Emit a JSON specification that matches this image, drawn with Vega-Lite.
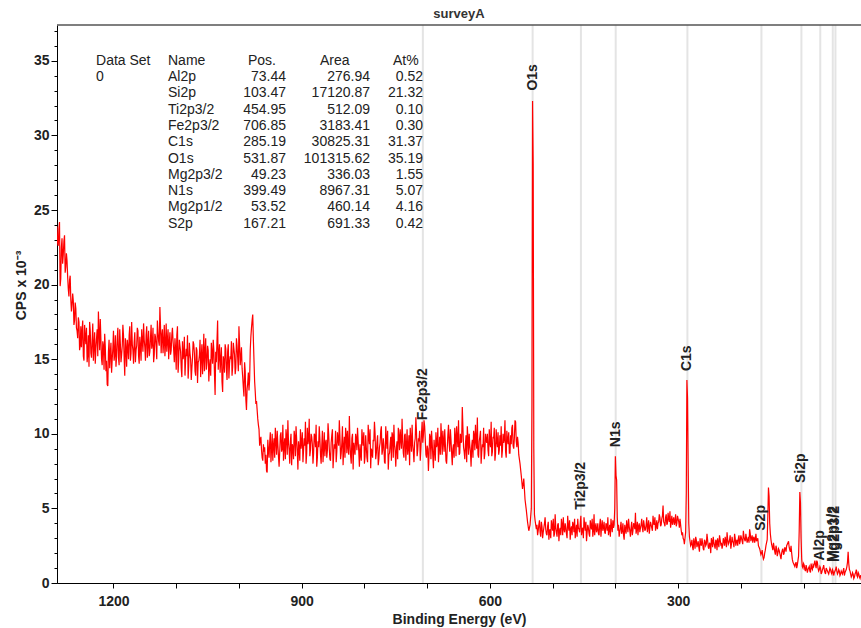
{
"$schema": "https://vega.github.io/schema/vega-lite/v6.json",
"width": 804,
"height": 558,
"autosize": {"type": "none"},
"padding": {"left": 57, "top": 25, "right": 0, "bottom": 45},
"title": {"text": "surveyA", "fontSize": 13, "fontWeight": "bold", "font": "Liberation Sans", "color": "#333", "offset": 3, "anchor": "middle"},
"config": {
  "view": {"stroke": null},
  "font": "Liberation Sans",
  "axis": {"domainColor": "#000", "tickColor": "#000", "labelColor": "#222", "titleColor": "#222", "labelFont": "Liberation Sans", "titleFont": "Liberation Sans", "labelFontSize": 14, "labelFontWeight": "bold", "titleFontSize": 14, "titleFontWeight": "bold", "domainWidth": 1, "grid": false, "labelOverlap": false}
},
"datasets": {
"peaks": [
{"row":0,"name":"Al2p","pos":73.44,"area":276.94,"at":0.52,"height":0.9},
{"row":1,"name":"Si2p","pos":103.47,"area":17120.87,"at":21.32,"height":6.1},
{"row":2,"name":"Ti2p3/2","pos":454.95,"area":512.09,"at":0.10,"height":4.3},
{"row":3,"name":"Fe2p3/2","pos":706.85,"area":3183.41,"at":0.30,"height":10.3},
{"row":4,"name":"C1s","pos":285.19,"area":30825.31,"at":31.37,"height":13.6},
{"row":5,"name":"O1s","pos":531.87,"area":101315.62,"at":35.19,"height":32.4},
{"row":6,"name":"Mg2p3/2","pos":49.23,"area":336.03,"at":1.55,"height":0.8},
{"row":7,"name":"N1s","pos":399.49,"area":8967.31,"at":5.07,"height":8.5},
{"row":8,"name":"Mg2p1/2","pos":53.52,"area":460.14,"at":4.16,"height":0.8},
{"row":9,"name":"S2p","pos":167.21,"area":691.33,"at":0.42,"height":2.9}
],
"spectrum": [
{"be":1290,"cps":23.9},{"be":1288,"cps":22.6},{"be":1286,"cps":24.2},{"be":1284,"cps":20.4},{"be":1282,"cps":23.1},{"be":1280,"cps":22.0},{"be":1278,"cps":23.3},{"be":1276,"cps":21.2},{"be":1274,"cps":21.6},{"be":1272,"cps":19.7},{"be":1270,"cps":20.3},{"be":1268,"cps":19.0},{"be":1266,"cps":18.7},{"be":1264,"cps":18.9},{"be":1262,"cps":17.6},{"be":1260,"cps":18.4},{"be":1258,"cps":16.9},{"be":1256,"cps":17.8},{"be":1254,"cps":15.6},{"be":1252,"cps":17.2},
{"be":1250,"cps":16.9},{"be":1248,"cps":15.2},{"be":1246,"cps":17.3},{"be":1244,"cps":16.0},{"be":1242,"cps":14.8},{"be":1240,"cps":16.6},{"be":1238,"cps":17.5},{"be":1236,"cps":15.4},{"be":1234,"cps":16.2},{"be":1232,"cps":14.9},{"be":1230,"cps":16.8},{"be":1228,"cps":15.7},{"be":1226,"cps":17.0},{"be":1224,"cps":18.2},{"be":1222,"cps":15.6},{"be":1220,"cps":16.3},{"be":1218,"cps":14.6},{"be":1216,"cps":15.9},{"be":1214,"cps":16.7},{"be":1212,"cps":14.2},{"be":1210,"cps":13.3},{"be":1208,"cps":15.5},{"be":1206,"cps":14.4},{"be":1204,"cps":16.1},{"be":1202,"cps":15.0},{"be":1200,"cps":16.9},{"be":1198,"cps":15.3},{"be":1196,"cps":14.5},{"be":1194,"cps":16.4},{"be":1192,"cps":15.1},{"be":1190,"cps":17.0},{"be":1188,"cps":14.8},{"be":1186,"cps":15.9},{"be":1184,"cps":16.6},{"be":1182,"cps":13.9},{"be":1180,"cps":15.7},{"be":1178,"cps":16.3},{"be":1176,"cps":15.0},{"be":1174,"cps":17.2},{"be":1172,"cps":15.4},{"be":1170,"cps":16.0},{"be":1168,"cps":14.7},{"be":1166,"cps":16.8},{"be":1164,"cps":15.6},{"be":1162,"cps":17.1},{"be":1160,"cps":15.2},{"be":1158,"cps":16.5},{"be":1156,"cps":14.9},{"be":1154,"cps":16.2},{"be":1152,"cps":17.4},{"be":1150,"cps":15.8},{"be":1148,"cps":16.6},{"be":1146,"cps":15.1},{"be":1144,"cps":16.9},{"be":1142,"cps":15.5},{"be":1140,"cps":17.3},{"be":1138,"cps":16.0},{"be":1136,"cps":14.8},{"be":1134,"cps":16.7},{"be":1132,"cps":15.9},{"be":1130,"cps":17.6},{"be":1128,"cps":16.2},{"be":1126,"cps":18.5},{"be":1124,"cps":15.4},{"be":1122,"cps":17.0},{"be":1120,"cps":16.1},{"be":1118,"cps":15.2},{"be":1116,"cps":17.4},{"be":1114,"cps":16.3},{"be":1112,"cps":15.0},{"be":1110,"cps":16.8},{"be":1108,"cps":15.6},{"be":1106,"cps":17.1},
{"be":1104,"cps":15.6},{"be":1102,"cps":16.4},{"be":1100,"cps":14.3},{"be":1098,"cps":17.2},{"be":1096,"cps":15.0},{"be":1094,"cps":15.9},{"be":1092,"cps":14.4},{"be":1090,"cps":16.2},{"be":1088,"cps":15.3},{"be":1086,"cps":13.9},{"be":1084,"cps":15.7},{"be":1082,"cps":16.6},{"be":1080,"cps":14.6},{"be":1078,"cps":15.4},{"be":1076,"cps":13.6},{"be":1074,"cps":15.1},{"be":1072,"cps":16.0},{"be":1070,"cps":14.2},{"be":1068,"cps":15.8},{"be":1066,"cps":13.4},{"be":1064,"cps":14.9},{"be":1062,"cps":16.3},{"be":1060,"cps":15.2},{"be":1058,"cps":14.0},{"be":1056,"cps":16.7},{"be":1054,"cps":15.5},{"be":1052,"cps":14.3},{"be":1050,"cps":15.9},{"be":1048,"cps":13.5},{"be":1046,"cps":15.0},{"be":1044,"cps":16.1},{"be":1042,"cps":14.7},{"be":1040,"cps":15.6},{"be":1038,"cps":12.6},{"be":1036,"cps":14.8},{"be":1034,"cps":17.6},{"be":1032,"cps":15.3},{"be":1030,"cps":14.1},{"be":1028,"cps":15.8},{"be":1026,"cps":12.8},{"be":1024,"cps":14.9},{"be":1022,"cps":16.0},{"be":1020,"cps":14.4},{"be":1018,"cps":15.5},{"be":1016,"cps":13.7},{"be":1014,"cps":15.2},{"be":1012,"cps":16.2},{"be":1010,"cps":14.5},{"be":1008,"cps":15.7},{"be":1006,"cps":14.0},{"be":1004,"cps":16.4},{"be":1002,"cps":15.1},{"be":1000,"cps":17.2},{"be":998,"cps":14.6},{"be":996,"cps":15.8},{"be":994,"cps":13.8},{"be":992,"cps":12.5},{"be":990,"cps":14.2},{"be":988,"cps":11.6},{"be":986,"cps":13.4},{"be":984,"cps":12.9},{"be":982,"cps":15.6},{"be":980,"cps":17.1},{"be":978,"cps":18.0},{"be":976,"cps":14.9},{"be":974,"cps":12.8},{"be":972,"cps":12.2},{"be":970,"cps":11.0},{"be":968,"cps":10.3},{"be":966,"cps":9.6},{"be":964,"cps":8.9},{"be":962,"cps":8.2},{"be":960,"cps":8.8},
{"be":958,"cps":8.0},{"be":956,"cps":7.5},{"be":954,"cps":9.6},{"be":952,"cps":8.4},{"be":950,"cps":10.1},{"be":948,"cps":9.0},{"be":946,"cps":8.2},{"be":944,"cps":9.7},{"be":942,"cps":10.4},{"be":940,"cps":8.6},{"be":938,"cps":9.3},{"be":936,"cps":7.8},{"be":934,"cps":9.9},{"be":932,"cps":8.8},{"be":930,"cps":10.6},{"be":928,"cps":9.2},{"be":926,"cps":8.3},{"be":924,"cps":9.8},{"be":922,"cps":10.9},{"be":920,"cps":8.9},{"be":918,"cps":9.5},{"be":916,"cps":7.9},{"be":914,"cps":9.1},{"be":912,"cps":10.2},{"be":910,"cps":8.5},{"be":908,"cps":9.6},{"be":906,"cps":7.6},{"be":904,"cps":9.0},{"be":902,"cps":10.3},{"be":900,"cps":9.4},{"be":898,"cps":8.1},{"be":896,"cps":9.7},{"be":894,"cps":10.8},{"be":892,"cps":8.7},{"be":890,"cps":9.3},{"be":888,"cps":11.0},{"be":886,"cps":8.9},{"be":884,"cps":9.8},{"be":882,"cps":8.0},{"be":880,"cps":10.0},{"be":878,"cps":9.1},{"be":876,"cps":7.8},{"be":874,"cps":9.5},{"be":872,"cps":10.5},{"be":870,"cps":8.6},{"be":868,"cps":9.2},{"be":866,"cps":8.1},{"be":864,"cps":10.1},{"be":862,"cps":9.4},{"be":860,"cps":8.4},{"be":858,"cps":10.7},{"be":856,"cps":9.0},{"be":854,"cps":8.2},{"be":852,"cps":9.9},{"be":850,"cps":7.7},{"be":848,"cps":9.3},{"be":846,"cps":10.2},{"be":844,"cps":8.8},{"be":842,"cps":9.6},{"be":840,"cps":10.9},{"be":838,"cps":8.3},{"be":836,"cps":9.4},{"be":834,"cps":7.9},{"be":832,"cps":9.8},{"be":830,"cps":10.4},{"be":828,"cps":8.7},{"be":826,"cps":9.1},{"be":824,"cps":11.2},{"be":822,"cps":8.5},{"be":820,"cps":9.7},{"be":818,"cps":7.6},{"be":816,"cps":9.0},{"be":814,"cps":10.0},{"be":812,"cps":8.9},{"be":810,"cps":9.5},{"be":808,"cps":7.8},{"be":806,"cps":8.6},{"be":804,"cps":10.3},{"be":802,"cps":9.2},{"be":800,"cps":8.0},{"be":798,"cps":9.9},{"be":796,"cps":8.4},{"be":794,"cps":10.6},{"be":792,"cps":9.3},{"be":790,"cps":7.7},{"be":788,"cps":8.8},{"be":786,"cps":9.6},{"be":784,"cps":10.8},{"be":782,"cps":8.3},{"be":780,"cps":9.4},{"be":778,"cps":7.9},{"be":776,"cps":9.1},{"be":774,"cps":10.2},{"be":772,"cps":8.6},{"be":770,"cps":9.7},{"be":768,"cps":8.1},{"be":766,"cps":10.5},{"be":764,"cps":9.0},{"be":762,"cps":7.6},{"be":760,"cps":8.7},{"be":758,"cps":9.8},{"be":756,"cps":10.1},{"be":754,"cps":8.4},{"be":752,"cps":9.3},{"be":750,"cps":7.8},{"be":748,"cps":9.5},{"be":746,"cps":10.4},{"be":744,"cps":8.9},{"be":742,"cps":9.6},{"be":740,"cps":11.0},{"be":738,"cps":8.7},{"be":736,"cps":9.9},{"be":734,"cps":8.2},{"be":732,"cps":10.3},{"be":730,"cps":9.1},{"be":728,"cps":7.9},{"be":726,"cps":9.6},{"be":724,"cps":10.6},{"be":722,"cps":8.8},{"be":720,"cps":9.4},{"be":718,"cps":11.1},{"be":716,"cps":8.5},{"be":714,"cps":9.7},{"be":712,"cps":10.2},{"be":710,"cps":9.0},{"be":708,"cps":10.8},{"be":706,"cps":9.9},{"be":704,"cps":10.5},{"be":702,"cps":8.6},{"be":700,"cps":9.2},{"be":698,"cps":7.5},{"be":696,"cps":10.0},{"be":694,"cps":8.3},{"be":692,"cps":9.4},{"be":690,"cps":7.7},{"be":688,"cps":8.9},{"be":686,"cps":10.1},{"be":684,"cps":9.3},{"be":682,"cps":8.1},{"be":680,"cps":9.8},{"be":678,"cps":10.7},{"be":676,"cps":8.6},{"be":674,"cps":9.5},{"be":672,"cps":10.3},{"be":670,"cps":8.2},{"be":668,"cps":9.0},{"be":666,"cps":10.6},{"be":664,"cps":8.8},{"be":662,"cps":9.6},{"be":660,"cps":7.9},{"be":658,"cps":9.3},{"be":656,"cps":10.4},{"be":654,"cps":8.5},{"be":652,"cps":9.7},{"be":650,"cps":10.9},{"be":648,"cps":8.7},{"be":646,"cps":9.4},{"be":644,"cps":11.8},{"be":642,"cps":9.1},{"be":640,"cps":8.3},{"be":638,"cps":9.9},{"be":636,"cps":10.5},{"be":634,"cps":8.6},{"be":632,"cps":9.2},{"be":630,"cps":7.8},{"be":628,"cps":9.6},{"be":626,"cps":10.2},{"be":624,"cps":8.9},{"be":622,"cps":9.5},{"be":620,"cps":11.1},{"be":618,"cps":8.4},{"be":616,"cps":9.8},{"be":614,"cps":8.0},{"be":612,"cps":9.3},{"be":610,"cps":10.4},{"be":608,"cps":8.7},{"be":606,"cps":9.6},{"be":604,"cps":10.0},{"be":602,"cps":8.5},{"be":600,"cps":9.4},{"be":598,"cps":10.8},{"be":596,"cps":8.8},{"be":594,"cps":9.7},{"be":592,"cps":8.2},{"be":590,"cps":10.3},{"be":588,"cps":9.1},{"be":586,"cps":8.6},{"be":584,"cps":9.9},{"be":582,"cps":10.5},{"be":580,"cps":8.9},{"be":578,"cps":9.4},{"be":576,"cps":10.9},{"be":574,"cps":8.4},{"be":572,"cps":9.6},{"be":570,"cps":10.1},{"be":568,"cps":8.7},{"be":566,"cps":9.3},{"be":564,"cps":10.6},{"be":562,"cps":9.0},{"be":560,"cps":10.9},{"be":558,"cps":9.5},{"be":556,"cps":9.8},{"be":554,"cps":8.6},
{"be":552,"cps":8.0},{"be":550,"cps":7.2},{"be":548,"cps":6.3},{"be":546,"cps":7.0},{"be":544,"cps":5.6},{"be":542,"cps":4.9},{"be":540,"cps":4.1},{"be":538,"cps":3.5},{"be":536,"cps":3.9},{"be":534,"cps":5.0},{"be":533,"cps":12.0},{"be":532,"cps":32.3},{"be":531,"cps":28.0},{"be":530,"cps":9.0},{"be":529,"cps":4.6},{"be":528,"cps":4.2},{"be":526,"cps":3.6},
{"be":524,"cps":3.2},{"be":522,"cps":3.9},{"be":520,"cps":3.4},{"be":518,"cps":4.1},{"be":516,"cps":3.0},{"be":514,"cps":3.7},{"be":512,"cps":4.4},{"be":510,"cps":3.3},{"be":508,"cps":3.8},{"be":506,"cps":2.9},{"be":504,"cps":3.6},{"be":502,"cps":4.2},{"be":500,"cps":3.5},{"be":498,"cps":3.1},{"be":496,"cps":4.6},{"be":494,"cps":3.4},{"be":492,"cps":3.9},{"be":490,"cps":2.8},{"be":488,"cps":3.7},{"be":486,"cps":4.3},{"be":484,"cps":3.2},{"be":482,"cps":3.6},{"be":480,"cps":4.0},{"be":478,"cps":3.3},{"be":476,"cps":4.5},{"be":474,"cps":3.5},{"be":472,"cps":2.9},{"be":470,"cps":3.8},{"be":468,"cps":4.1},{"be":466,"cps":3.4},{"be":464,"cps":3.0},{"be":462,"cps":3.9},{"be":460,"cps":4.3},{"be":458,"cps":3.6},{"be":456,"cps":4.0},{"be":454,"cps":3.2},{"be":452,"cps":3.7},{"be":450,"cps":4.4},{"be":448,"cps":3.5},{"be":446,"cps":2.8},{"be":444,"cps":3.9},{"be":442,"cps":3.3},{"be":440,"cps":4.2},{"be":438,"cps":3.6},{"be":436,"cps":3.1},{"be":434,"cps":4.6},{"be":432,"cps":3.7},{"be":430,"cps":3.4},{"be":428,"cps":4.0},{"be":426,"cps":3.2},{"be":424,"cps":4.3},{"be":422,"cps":3.8},{"be":420,"cps":3.5},{"be":418,"cps":4.1},{"be":416,"cps":3.3},{"be":414,"cps":3.9},{"be":412,"cps":4.4},{"be":410,"cps":3.6},{"be":408,"cps":3.1},{"be":406,"cps":3.8},{"be":404,"cps":4.2},{"be":402,"cps":3.9},{"be":401,"cps":5.0},{"be":400,"cps":8.5},{"be":399,"cps":7.2},{"be":398,"cps":6.9},{"be":397,"cps":4.4},{"be":396,"cps":3.5},{"be":394,"cps":3.1},{"be":392,"cps":3.7},{"be":390,"cps":3.3},{"be":388,"cps":4.0},{"be":386,"cps":2.9},{"be":384,"cps":3.6},{"be":382,"cps":4.2},{"be":380,"cps":3.4},{"be":378,"cps":3.8},{"be":376,"cps":3.1},{"be":374,"cps":4.1},{"be":372,"cps":3.5},{"be":370,"cps":3.9},{"be":368,"cps":4.7},{"be":366,"cps":3.6},{"be":364,"cps":3.2},{"be":362,"cps":4.0},{"be":360,"cps":3.7},{"be":358,"cps":4.3},{"be":356,"cps":3.4},{"be":354,"cps":3.9},{"be":352,"cps":3.6},{"be":350,"cps":4.4},{"be":348,"cps":3.8},{"be":346,"cps":3.3},{"be":344,"cps":4.1},{"be":342,"cps":3.7},{"be":340,"cps":4.5},{"be":338,"cps":3.9},{"be":336,"cps":3.5},{"be":334,"cps":4.2},{"be":332,"cps":4.0},{"be":330,"cps":4.6},{"be":328,"cps":3.8},{"be":326,"cps":4.3},{"be":324,"cps":5.2},{"be":322,"cps":4.0},{"be":320,"cps":4.4},{"be":318,"cps":3.9},{"be":316,"cps":4.7},{"be":314,"cps":4.1},{"be":312,"cps":3.7},{"be":310,"cps":4.5},{"be":308,"cps":4.2},{"be":306,"cps":3.9},{"be":304,"cps":4.6},{"be":302,"cps":4.0},{"be":300,"cps":4.3},{"be":298,"cps":3.7},{"be":296,"cps":3.9},{"be":294,"cps":3.2},{"be":292,"cps":3.0},{"be":290,"cps":2.6},{"be":288,"cps":3.4},{"be":287,"cps":6.0},{"be":286,"cps":13.6},{"be":285,"cps":12.4},{"be":284,"cps":8.0},{"be":283,"cps":4.0},{"be":282,"cps":3.1},
{"be":280,"cps":2.5},{"be":278,"cps":2.9},{"be":276,"cps":2.2},{"be":274,"cps":2.7},{"be":272,"cps":3.1},{"be":270,"cps":2.4},{"be":268,"cps":2.8},{"be":266,"cps":2.1},{"be":264,"cps":2.6},{"be":262,"cps":3.0},{"be":260,"cps":2.3},{"be":258,"cps":2.9},{"be":256,"cps":2.5},{"be":254,"cps":3.3},{"be":252,"cps":2.4},{"be":250,"cps":2.7},{"be":248,"cps":2.0},{"be":246,"cps":2.8},{"be":244,"cps":3.1},{"be":242,"cps":2.5},{"be":240,"cps":2.9},{"be":238,"cps":2.2},{"be":236,"cps":2.7},{"be":234,"cps":3.2},{"be":232,"cps":2.6},{"be":230,"cps":2.3},{"be":228,"cps":3.0},{"be":226,"cps":2.5},{"be":224,"cps":2.8},{"be":222,"cps":3.4},{"be":220,"cps":2.6},{"be":218,"cps":2.9},{"be":216,"cps":2.3},{"be":214,"cps":3.1},{"be":212,"cps":2.7},{"be":210,"cps":3.3},{"be":208,"cps":2.5},{"be":206,"cps":2.9},{"be":204,"cps":3.0},{"be":202,"cps":2.6},{"be":200,"cps":3.2},{"be":198,"cps":2.8},{"be":196,"cps":3.5},{"be":194,"cps":2.9},{"be":192,"cps":3.3},{"be":190,"cps":2.7},{"be":188,"cps":3.1},{"be":186,"cps":3.6},{"be":184,"cps":2.8},{"be":182,"cps":3.2},{"be":180,"cps":3.0},{"be":178,"cps":2.7},{"be":176,"cps":3.3},{"be":174,"cps":2.9},{"be":172,"cps":2.5},{"be":170,"cps":2.3},{"be":168,"cps":1.9},{"be":166,"cps":2.2},{"be":164,"cps":1.6},{"be":162,"cps":2.0},{"be":160,"cps":2.5},{"be":158,"cps":2.9},{"be":157,"cps":4.5},{"be":156,"cps":6.4},{"be":155,"cps":5.8},{"be":154,"cps":4.0},{"be":153,"cps":3.3},{"be":152,"cps":2.9},{"be":150,"cps":2.4},{"be":148,"cps":2.7},{"be":146,"cps":2.1},{"be":144,"cps":2.5},{"be":142,"cps":1.8},{"be":140,"cps":2.3},{"be":138,"cps":2.0},{"be":136,"cps":1.6},{"be":134,"cps":2.2},{"be":132,"cps":1.9},{"be":130,"cps":2.4},{"be":128,"cps":2.1},{"be":126,"cps":2.6},{"be":124,"cps":2.8},{"be":122,"cps":2.2},{"be":120,"cps":2.5},{"be":118,"cps":1.6},{"be":116,"cps":1.3},{"be":114,"cps":1.1},{"be":112,"cps":1.4},{"be":110,"cps":1.2},{"be":108,"cps":1.8},{"be":107,"cps":3.5},{"be":106,"cps":6.1},{"be":105,"cps":5.4},{"be":104,"cps":3.0},{"be":103,"cps":1.6},{"be":102,"cps":1.1},{"be":100,"cps":1.3},{"be":98,"cps":0.9},{"be":96,"cps":1.2},{"be":94,"cps":0.7},{"be":92,"cps":1.0},{"be":90,"cps":0.8},{"be":88,"cps":1.3},{"be":86,"cps":0.9},{"be":84,"cps":1.1},{"be":82,"cps":1.5},{"be":80,"cps":1.0},{"be":78,"cps":1.4},{"be":76,"cps":0.8},{"be":74,"cps":1.1},{"be":72,"cps":0.6},{"be":70,"cps":0.9},{"be":68,"cps":1.2},{"be":66,"cps":0.7},{"be":64,"cps":1.0},{"be":62,"cps":0.8},{"be":60,"cps":0.6},{"be":58,"cps":1.0},{"be":56,"cps":0.7},{"be":54,"cps":0.9},{"be":52,"cps":0.5},{"be":50,"cps":0.8},{"be":48,"cps":1.1},{"be":46,"cps":0.6},{"be":44,"cps":0.9},{"be":42,"cps":0.5},{"be":40,"cps":0.8},{"be":38,"cps":0.6},{"be":36,"cps":1.0},{"be":34,"cps":0.7},{"be":32,"cps":0.9},{"be":30,"cps":1.4},{"be":29,"cps":2.1},{"be":28,"cps":1.3},{"be":26,"cps":0.8},{"be":24,"cps":0.4},{"be":22,"cps":0.7},{"be":20,"cps":0.3},{"be":18,"cps":0.6},{"be":16,"cps":0.9},{"be":14,"cps":0.4},{"be":12,"cps":0.6},{"be":10,"cps":0.3},{"be":8,"cps":0.5},
{"be":1289,"cps":22.8},{"be":1287,"cps":23.7},{"be":1285,"cps":19.9},{"be":1283,"cps":22.5},{"be":1281,"cps":21.4},{"be":1279,"cps":22.9},{"be":1277,"cps":20.8},{"be":1275,"cps":22.1},{"be":1273,"cps":20.5},{"be":1271,"cps":19.2},{"be":1269,"cps":20.6},{"be":1267,"cps":18.2},{"be":1265,"cps":19.4},{"be":1263,"cps":17.3},{"be":1261,"cps":18.8},{"be":1259,"cps":17.1},{"be":1257,"cps":16.4},{"be":1255,"cps":17.5},{"be":1253,"cps":15.9},
{"be":1251,"cps":15.8},{"be":1249,"cps":17.6},{"be":1247,"cps":14.9},{"be":1245,"cps":16.5},{"be":1243,"cps":17.1},{"be":1241,"cps":15.3},{"be":1239,"cps":14.5},{"be":1237,"cps":16.9},{"be":1235,"cps":15.1},{"be":1233,"cps":17.4},{"be":1231,"cps":15.9},{"be":1229,"cps":14.7},{"be":1227,"cps":16.4},{"be":1225,"cps":15.2},{"be":1223,"cps":16.8},{"be":1221,"cps":17.7},{"be":1219,"cps":15.0},{"be":1217,"cps":16.2},{"be":1215,"cps":14.3},{"be":1213,"cps":15.8},{"be":1211,"cps":14.9},{"be":1209,"cps":13.2},{"be":1207,"cps":16.3},{"be":1205,"cps":15.4},{"be":1203,"cps":14.1},{"be":1201,"cps":15.7},{"be":1199,"cps":14.9},{"be":1197,"cps":16.6},{"be":1195,"cps":15.2},{"be":1193,"cps":17.1},{"be":1191,"cps":14.6},{"be":1189,"cps":16.0},{"be":1187,"cps":15.3},{"be":1185,"cps":17.3},{"be":1183,"cps":15.1},{"be":1181,"cps":16.4},{"be":1179,"cps":14.5},{"be":1177,"cps":15.8},{"be":1175,"cps":16.6},{"be":1173,"cps":14.9},{"be":1171,"cps":17.5},{"be":1169,"cps":15.6},{"be":1167,"cps":16.1},{"be":1165,"cps":14.8},{"be":1163,"cps":15.9},{"be":1161,"cps":16.9},{"be":1159,"cps":14.7},{"be":1157,"cps":15.8},{"be":1155,"cps":17.0},{"be":1153,"cps":15.5},{"be":1151,"cps":16.3},{"be":1149,"cps":14.9},{"be":1147,"cps":17.2},{"be":1145,"cps":16.0},{"be":1143,"cps":15.2},{"be":1141,"cps":16.4},{"be":1139,"cps":15.7},{"be":1137,"cps":17.1},{"be":1135,"cps":15.3},{"be":1133,"cps":16.5},{"be":1131,"cps":15.0},{"be":1129,"cps":16.8},{"be":1127,"cps":15.9},{"be":1125,"cps":17.2},{"be":1123,"cps":16.6},{"be":1121,"cps":15.4},{"be":1119,"cps":17.3},{"be":1117,"cps":16.0},{"be":1115,"cps":15.5},{"be":1113,"cps":17.0},{"be":1111,"cps":16.1},{"be":1109,"cps":15.3},{"be":1107,"cps":16.6},
{"be":1105,"cps":16.2},{"be":1103,"cps":14.8},{"be":1101,"cps":15.7},{"be":1099,"cps":16.6},{"be":1097,"cps":14.1},{"be":1095,"cps":16.3},{"be":1093,"cps":15.5},{"be":1091,"cps":13.8},{"be":1089,"cps":15.0},{"be":1087,"cps":16.5},{"be":1085,"cps":14.9},{"be":1083,"cps":15.2},{"be":1081,"cps":13.7},{"be":1079,"cps":16.1},{"be":1077,"cps":15.0},{"be":1075,"cps":14.4},{"be":1073,"cps":16.2},{"be":1071,"cps":15.4},{"be":1069,"cps":13.9},{"be":1067,"cps":15.6},{"be":1065,"cps":14.8},{"be":1063,"cps":15.3},{"be":1061,"cps":13.8},{"be":1059,"cps":16.0},{"be":1057,"cps":15.1},{"be":1055,"cps":14.2},{"be":1053,"cps":16.4},{"be":1051,"cps":14.8},{"be":1049,"cps":15.6},{"be":1047,"cps":14.5},{"be":1045,"cps":13.9},{"be":1043,"cps":15.4},{"be":1041,"cps":16.3},{"be":1039,"cps":14.0},{"be":1037,"cps":15.5},{"be":1035,"cps":16.2},{"be":1033,"cps":14.3},{"be":1031,"cps":16.0},{"be":1029,"cps":15.0},{"be":1027,"cps":13.5},{"be":1025,"cps":15.2},{"be":1023,"cps":14.1},{"be":1021,"cps":15.7},{"be":1019,"cps":13.6},{"be":1017,"cps":16.0},{"be":1015,"cps":14.7},{"be":1013,"cps":15.0},{"be":1011,"cps":13.9},{"be":1009,"cps":16.1},{"be":1007,"cps":15.3},{"be":1005,"cps":14.4},{"be":1003,"cps":15.9},{"be":1001,"cps":14.2},{"be":999,"cps":16.0},{"be":997,"cps":15.1},{"be":995,"cps":14.4},{"be":993,"cps":13.1},{"be":991,"cps":14.8},{"be":989,"cps":12.3},{"be":987,"cps":13.0},{"be":985,"cps":14.1},{"be":983,"cps":13.6},{"be":981,"cps":16.5},{"be":979,"cps":17.6},{"be":977,"cps":16.3},{"be":975,"cps":13.5},{"be":973,"cps":12.0},{"be":971,"cps":11.6},{"be":969,"cps":10.6},{"be":967,"cps":9.2},{"be":965,"cps":9.8},{"be":963,"cps":8.4},{"be":961,"cps":9.3},
{"be":959,"cps":9.1},{"be":957,"cps":8.6},{"be":955,"cps":7.4},{"be":953,"cps":8.9},{"be":951,"cps":9.4},{"be":949,"cps":8.1},{"be":947,"cps":10.0},{"be":945,"cps":9.2},{"be":943,"cps":8.4},{"be":941,"cps":9.5},{"be":939,"cps":10.2},{"be":937,"cps":8.5},{"be":935,"cps":8.8},{"be":933,"cps":10.1},{"be":931,"cps":9.0},{"be":929,"cps":8.2},{"be":927,"cps":9.7},{"be":925,"cps":10.3},{"be":923,"cps":8.6},{"be":921,"cps":9.4},{"be":919,"cps":8.0},{"be":917,"cps":10.0},{"be":915,"cps":9.3},{"be":913,"cps":8.3},{"be":911,"cps":9.8},{"be":909,"cps":10.5},{"be":907,"cps":8.8},{"be":905,"cps":9.5},{"be":903,"cps":8.2},{"be":901,"cps":9.0},{"be":899,"cps":10.1},{"be":897,"cps":8.9},{"be":895,"cps":9.2},{"be":893,"cps":8.0},{"be":891,"cps":10.4},{"be":889,"cps":9.6},{"be":887,"cps":8.5},{"be":885,"cps":10.0},{"be":883,"cps":9.3},{"be":881,"cps":8.7},{"be":879,"cps":9.9},{"be":877,"cps":10.6},{"be":875,"cps":8.4},{"be":873,"cps":9.1},{"be":871,"cps":9.7},{"be":869,"cps":8.0},{"be":867,"cps":10.2},{"be":865,"cps":9.0},{"be":863,"cps":8.5},{"be":861,"cps":9.6},{"be":859,"cps":8.9},{"be":857,"cps":10.0},{"be":855,"cps":8.3},{"be":853,"cps":9.4},{"be":851,"cps":10.3},{"be":849,"cps":8.6},{"be":847,"cps":9.0},{"be":845,"cps":8.1},{"be":843,"cps":10.1},{"be":841,"cps":9.2},{"be":839,"cps":9.8},{"be":837,"cps":8.7},{"be":835,"cps":10.5},{"be":833,"cps":9.1},{"be":831,"cps":8.4},{"be":829,"cps":9.9},{"be":827,"cps":10.2},{"be":825,"cps":8.6},{"be":823,"cps":9.3},{"be":821,"cps":8.0},{"be":819,"cps":10.0},{"be":817,"cps":9.4},{"be":815,"cps":8.6},{"be":813,"cps":9.7},{"be":811,"cps":10.4},{"be":809,"cps":8.8},{"be":807,"cps":9.3},{"be":805,"cps":8.2},{"be":803,"cps":9.6},{"be":801,"cps":10.1},{"be":799,"cps":8.5},{"be":797,"cps":9.1},{"be":795,"cps":8.1},{"be":793,"cps":9.8},{"be":791,"cps":10.3},{"be":789,"cps":9.0},{"be":787,"cps":8.4},{"be":785,"cps":9.5},{"be":783,"cps":10.0},{"be":781,"cps":8.7},{"be":779,"cps":9.9},{"be":777,"cps":8.3},{"be":775,"cps":9.4},{"be":773,"cps":10.5},{"be":771,"cps":8.9},{"be":769,"cps":9.2},{"be":767,"cps":8.0},{"be":765,"cps":9.7},{"be":763,"cps":10.2},{"be":761,"cps":8.6},{"be":759,"cps":9.3},{"be":757,"cps":8.2},{"be":755,"cps":9.9},{"be":753,"cps":10.6},{"be":751,"cps":8.8},{"be":749,"cps":9.1},{"be":747,"cps":8.3},{"be":745,"cps":9.8},{"be":743,"cps":10.3},{"be":741,"cps":9.0},{"be":739,"cps":9.6},{"be":737,"cps":8.4},{"be":735,"cps":10.0},{"be":733,"cps":9.2},{"be":731,"cps":8.6},{"be":729,"cps":9.9},{"be":727,"cps":10.4},{"be":725,"cps":8.8},{"be":723,"cps":9.3},{"be":721,"cps":8.1},{"be":719,"cps":9.7},{"be":717,"cps":10.1},{"be":715,"cps":8.9},{"be":713,"cps":9.5},{"be":711,"cps":8.2},{"be":709,"cps":10.0},{"be":707,"cps":9.4},{"be":705,"cps":10.9},{"be":703,"cps":9.6},{"be":701,"cps":8.4},{"be":699,"cps":9.0},{"be":697,"cps":8.6},{"be":695,"cps":9.8},{"be":693,"cps":10.2},{"be":691,"cps":8.5},{"be":689,"cps":9.6},{"be":687,"cps":8.2},{"be":685,"cps":9.1},{"be":683,"cps":10.4},{"be":681,"cps":9.0},{"be":679,"cps":8.6},{"be":677,"cps":9.7},{"be":675,"cps":10.2},{"be":673,"cps":8.8},{"be":671,"cps":9.3},{"be":669,"cps":8.0},{"be":667,"cps":9.9},{"be":665,"cps":9.4},{"be":663,"cps":10.3},{"be":661,"cps":8.7},{"be":659,"cps":9.0},{"be":657,"cps":8.4},{"be":655,"cps":9.8},{"be":653,"cps":10.5},{"be":651,"cps":9.1},{"be":649,"cps":8.6},{"be":647,"cps":10.0},{"be":645,"cps":9.5},{"be":643,"cps":10.4},{"be":641,"cps":8.8},{"be":639,"cps":9.3},{"be":637,"cps":8.1},{"be":635,"cps":9.7},{"be":633,"cps":10.0},{"be":631,"cps":8.8},{"be":629,"cps":9.2},{"be":627,"cps":8.4},{"be":625,"cps":9.9},{"be":623,"cps":10.6},{"be":621,"cps":9.0},{"be":619,"cps":8.6},{"be":617,"cps":9.5},{"be":615,"cps":10.2},{"be":613,"cps":8.8},{"be":611,"cps":9.1},{"be":609,"cps":8.3},{"be":607,"cps":10.0},{"be":605,"cps":9.4},{"be":603,"cps":8.9},{"be":601,"cps":10.3},{"be":599,"cps":9.1},{"be":597,"cps":8.5},{"be":595,"cps":9.8},{"be":593,"cps":10.4},{"be":591,"cps":8.7},{"be":589,"cps":9.5},{"be":587,"cps":10.1},{"be":585,"cps":8.9},{"be":583,"cps":9.2},{"be":581,"cps":8.4},{"be":579,"cps":10.0},{"be":577,"cps":9.6},{"be":575,"cps":8.8},{"be":573,"cps":10.2},{"be":571,"cps":9.3},{"be":569,"cps":8.7},{"be":567,"cps":9.9},{"be":565,"cps":10.4},{"be":563,"cps":9.2},{"be":561,"cps":9.7},{"be":559,"cps":10.8},{"be":557,"cps":9.1},{"be":555,"cps":9.4},
{"be":525,"cps":3.9},{"be":523,"cps":3.5},{"be":521,"cps":4.2},{"be":519,"cps":3.1},{"be":517,"cps":3.8},{"be":515,"cps":3.4},{"be":513,"cps":4.0},{"be":511,"cps":3.6},{"be":509,"cps":3.2},{"be":507,"cps":4.1},{"be":505,"cps":3.5},{"be":503,"cps":3.0},{"be":501,"cps":3.8},{"be":499,"cps":4.3},{"be":497,"cps":3.3},{"be":495,"cps":3.7},{"be":493,"cps":3.1},{"be":491,"cps":4.0},{"be":489,"cps":3.5},{"be":487,"cps":3.2},{"be":485,"cps":3.9},{"be":483,"cps":4.4},{"be":481,"cps":3.4},{"be":479,"cps":3.7},{"be":477,"cps":3.0},{"be":475,"cps":3.8},{"be":473,"cps":4.2},{"be":471,"cps":3.6},{"be":469,"cps":3.2},{"be":467,"cps":3.9},{"be":465,"cps":4.3},{"be":463,"cps":3.5},{"be":461,"cps":3.1},{"be":459,"cps":3.7},{"be":457,"cps":3.4},{"be":455,"cps":4.5},{"be":453,"cps":3.6},{"be":451,"cps":3.0},{"be":449,"cps":3.9},{"be":447,"cps":4.1},{"be":445,"cps":3.4},{"be":443,"cps":3.7},{"be":441,"cps":3.1},{"be":439,"cps":3.8},{"be":437,"cps":4.3},{"be":435,"cps":3.5},{"be":433,"cps":3.2},{"be":431,"cps":4.0},{"be":429,"cps":3.6},{"be":427,"cps":3.3},{"be":425,"cps":3.9},{"be":423,"cps":3.1},{"be":421,"cps":4.2},{"be":419,"cps":3.7},{"be":417,"cps":3.4},{"be":415,"cps":4.0},{"be":413,"cps":3.5},{"be":411,"cps":3.2},{"be":409,"cps":3.9},{"be":407,"cps":4.3},{"be":405,"cps":3.4},{"be":403,"cps":3.7},
{"be":395,"cps":3.9},{"be":393,"cps":3.4},{"be":391,"cps":4.1},{"be":389,"cps":3.5},{"be":387,"cps":3.2},{"be":385,"cps":3.9},{"be":383,"cps":3.3},{"be":381,"cps":3.8},{"be":379,"cps":4.3},{"be":377,"cps":3.5},{"be":375,"cps":3.7},{"be":373,"cps":3.2},{"be":371,"cps":4.0},{"be":369,"cps":3.6},{"be":367,"cps":3.3},{"be":365,"cps":4.1},{"be":363,"cps":3.8},{"be":361,"cps":3.4},{"be":359,"cps":3.9},{"be":357,"cps":3.7},{"be":355,"cps":4.2},{"be":353,"cps":3.5},{"be":351,"cps":3.9},{"be":349,"cps":3.4},{"be":347,"cps":4.2},{"be":345,"cps":3.7},{"be":343,"cps":3.9},{"be":341,"cps":3.5},{"be":339,"cps":4.0},{"be":337,"cps":4.4},{"be":335,"cps":3.8},{"be":333,"cps":3.6},{"be":331,"cps":4.1},{"be":329,"cps":4.4},{"be":327,"cps":3.9},{"be":325,"cps":4.5},{"be":323,"cps":4.1},{"be":321,"cps":3.8},{"be":319,"cps":4.6},{"be":317,"cps":4.0},{"be":315,"cps":4.3},{"be":313,"cps":4.8},{"be":311,"cps":4.1},{"be":309,"cps":3.9},{"be":307,"cps":4.4},{"be":305,"cps":4.1},{"be":303,"cps":3.8},{"be":301,"cps":4.5},{"be":299,"cps":4.1},{"be":297,"cps":4.3},{"be":295,"cps":3.5},{"be":293,"cps":3.4},{"be":291,"cps":2.9},{"be":289,"cps":3.0},
{"be":281,"cps":2.8},{"be":279,"cps":2.6},{"be":277,"cps":2.4},{"be":275,"cps":3.0},{"be":273,"cps":2.3},{"be":271,"cps":2.9},{"be":269,"cps":2.6},{"be":267,"cps":2.4},{"be":265,"cps":3.0},{"be":263,"cps":2.5},{"be":261,"cps":2.7},{"be":259,"cps":2.2},{"be":257,"cps":2.8},{"be":255,"cps":2.6},{"be":253,"cps":2.9},{"be":251,"cps":2.3},{"be":249,"cps":2.6},{"be":247,"cps":3.0},{"be":245,"cps":2.4},{"be":243,"cps":2.7},{"be":241,"cps":2.3},{"be":239,"cps":2.8},{"be":237,"cps":3.0},{"be":235,"cps":2.4},{"be":233,"cps":2.9},{"be":231,"cps":2.7},{"be":229,"cps":2.5},{"be":227,"cps":2.8},{"be":225,"cps":3.1},{"be":223,"cps":2.4},{"be":221,"cps":2.9},{"be":219,"cps":2.7},{"be":217,"cps":3.2},{"be":215,"cps":2.6},{"be":213,"cps":2.8},{"be":211,"cps":2.4},{"be":209,"cps":3.0},{"be":207,"cps":2.8},{"be":205,"cps":2.5},{"be":203,"cps":3.2},{"be":201,"cps":2.8},{"be":199,"cps":3.0},{"be":197,"cps":2.6},{"be":195,"cps":3.1},{"be":193,"cps":2.8},{"be":191,"cps":3.0},{"be":189,"cps":2.9},{"be":187,"cps":2.7},{"be":185,"cps":3.3},{"be":183,"cps":3.0},{"be":181,"cps":2.7},{"be":179,"cps":3.1},{"be":177,"cps":2.9},{"be":175,"cps":2.8},{"be":173,"cps":3.0},{"be":171,"cps":2.4},{"be":169,"cps":2.1},{"be":167,"cps":2.0},{"be":165,"cps":1.8},{"be":163,"cps":1.7},{"be":161,"cps":2.2},{"be":159,"cps":2.7},
{"be":151,"cps":2.6},{"be":149,"cps":2.2},{"be":147,"cps":2.4},{"be":145,"cps":1.9},{"be":143,"cps":2.3},{"be":141,"cps":2.0},{"be":139,"cps":2.2},{"be":137,"cps":1.8},{"be":135,"cps":2.0},{"be":133,"cps":2.3},{"be":131,"cps":2.0},{"be":129,"cps":2.3},{"be":127,"cps":2.5},{"be":125,"cps":2.7},{"be":123,"cps":2.4},{"be":121,"cps":2.1},{"be":119,"cps":2.0},{"be":117,"cps":1.4},{"be":115,"cps":1.2},{"be":113,"cps":1.3},{"be":111,"cps":1.0},{"be":109,"cps":1.5},
{"be":101,"cps":1.0},{"be":99,"cps":1.2},{"be":97,"cps":0.8},{"be":95,"cps":1.0},{"be":93,"cps":0.9},{"be":91,"cps":1.1},{"be":89,"cps":0.7},{"be":87,"cps":1.0},{"be":85,"cps":1.2},{"be":83,"cps":1.3},{"be":81,"cps":1.2},{"be":79,"cps":1.5},{"be":77,"cps":1.0},{"be":75,"cps":0.9},{"be":73,"cps":1.0},{"be":71,"cps":0.7},{"be":69,"cps":1.0},{"be":67,"cps":0.9},{"be":65,"cps":0.6},{"be":63,"cps":0.9},{"be":61,"cps":0.7},{"be":59,"cps":0.8},{"be":57,"cps":0.9},{"be":55,"cps":0.6},{"be":53,"cps":0.8},{"be":51,"cps":0.7},{"be":49,"cps":0.9},{"be":47,"cps":0.8},{"be":45,"cps":0.7},{"be":43,"cps":0.8},{"be":41,"cps":0.6},{"be":39,"cps":0.7},{"be":37,"cps":0.8},{"be":35,"cps":0.5},{"be":33,"cps":0.8},{"be":31,"cps":1.1},{"be":27,"cps":0.9},{"be":25,"cps":0.6},{"be":23,"cps":0.5},{"be":21,"cps":0.6},{"be":19,"cps":0.4},{"be":17,"cps":0.7},{"be":15,"cps":0.5},{"be":13,"cps":0.7},{"be":11,"cps":0.4},{"be":9,"cps":0.5}
]
},
"layer": [
  {
    "layer": [
      {
        "data": {"name": "peaks"},
        "mark": {"type": "rule", "color": "#e4e4e4", "strokeWidth": 2},
        "encoding": {"x": {"field": "pos", "type": "quantitative", "axis": null}}
      },
      {
        "data": {"values": [{}]},
        "mark": {"type": "rule", "color": "#555", "strokeWidth": 1.5},
        "encoding": {"y": {"datum": 37.4, "type": "quantitative", "axis": null}}
      },
      {
        "data": {"name": "spectrum"},
        "mark": {"type": "line", "color": "#ff0000", "strokeWidth": 1.2, "clip": true},
        "encoding": {
          "x": {"field": "be", "type": "quantitative",
                "scale": {"domain": [8.5, 1290], "reverse": true, "nice": false, "zero": false},
                "axis": {"orient": "bottom", "title": "Binding Energy (eV)", "values": [1200,1100,1000,900,800,700,600,500,400,300,200,100], "format": "d", "labelExpr": "datum.value % 300 == 0 ? datum.label : ''", "tickSize": 5, "labelPadding": 6, "titlePadding": 4, "labelFlush": false}},
          "y": {"field": "cps", "type": "quantitative",
                "scale": {"domain": [0, 37.4], "nice": false},
                "axis": {"orient": "left", "title": "CPS x 10⁻³", "values": [0,5,10,15,20,25,30,35], "tickSize": 6, "labelPadding": 2, "titlePadding": 5, "titleY": 260}}
        }
      },
      {
        "data": {"name": "peaks"},
        "mark": {"type": "text", "angle": 270, "align": "left", "baseline": "middle", "dx": 9, "fontSize": 14, "fontWeight": "bold", "font": "Liberation Sans", "color": "#222"},
        "encoding": {
          "x": {"field": "pos", "type": "quantitative", "axis": null},
          "y": {"field": "height", "type": "quantitative",
                "axis": {"orient": "left", "values": [0,1,2,3,4,6,7,8,9,11,12,13,14,16,17,18,19,21,22,23,24,26,27,28,29,31,32,33,34,36,37], "tickSize": 3, "labels": false, "domain": false, "title": null}},
          "text": {"field": "name"}
        }
      }
    ],
    "resolve": {"axis": {"x": "independent", "y": "independent"}}
  },
  {
    "layer": [
      {
        "data": {"name": "peaks"},
        "mark": {"type": "text", "align": "left", "baseline": "middle", "fontSize": 14, "font": "Liberation Sans", "color": "#222"},
        "encoding": {
          "x": {"datum": 1113.1, "type": "quantitative", "axis": null},
          "y": {"field": "row", "type": "quantitative", "scale": {"domain": [-3.19, 31.04], "reverse": true, "nice": false, "zero": false}, "axis": null},
          "text": {"field": "name"}
        }
      },
      {
        "data": {"name": "peaks"},
        "mark": {"type": "text", "align": "right", "baseline": "middle", "fontSize": 14, "font": "Liberation Sans", "color": "#222"},
        "encoding": {
          "x": {"datum": 925.0, "type": "quantitative", "axis": null},
          "y": {"field": "row", "type": "quantitative", "axis": null},
          "text": {"field": "pos", "format": ".2f"}
        }
      },
      {
        "data": {"name": "peaks"},
        "mark": {"type": "text", "align": "right", "baseline": "middle", "fontSize": 14, "font": "Liberation Sans", "color": "#222"},
        "encoding": {
          "x": {"datum": 791.1, "type": "quantitative", "axis": null},
          "y": {"field": "row", "type": "quantitative", "axis": null},
          "text": {"field": "area", "format": ".2f"}
        }
      },
      {
        "data": {"name": "peaks"},
        "mark": {"type": "text", "align": "right", "baseline": "middle", "fontSize": 14, "font": "Liberation Sans", "color": "#222"},
        "encoding": {
          "x": {"datum": 706.6, "type": "quantitative", "axis": null},
          "y": {"field": "row", "type": "quantitative", "axis": null},
          "text": {"field": "at", "format": ".2f"}
        }
      },
      {
        "data": {"values": [{}]},
        "mark": {"type": "text", "align": "left", "baseline": "middle", "fontSize": 14, "font": "Liberation Sans", "color": "#222"},
        "encoding": {
          "x": {"datum": 1227.8, "type": "quantitative", "axis": null},
          "y": {"datum": 0, "type": "quantitative", "axis": null},
          "text": {"value": "0"}
        }
      },
      {
        "data": {"values": [{}]},
        "mark": {"type": "text", "align": "left", "baseline": "middle", "fontSize": 14, "font": "Liberation Sans", "color": "#222"},
        "encoding": {
          "x": {"datum": 1227.8, "type": "quantitative", "axis": null},
          "y": {"datum": -1, "type": "quantitative", "axis": null},
          "text": {"value": "Data Set"}
        }
      },
      {
        "data": {"values": [{}]},
        "mark": {"type": "text", "align": "left", "baseline": "middle", "fontSize": 14, "font": "Liberation Sans", "color": "#222"},
        "encoding": {
          "x": {"datum": 1113.1, "type": "quantitative", "axis": null},
          "y": {"datum": -1, "type": "quantitative", "axis": null},
          "text": {"value": "Name"}
        }
      },
      {
        "data": {"values": [{}]},
        "mark": {"type": "text", "align": "left", "baseline": "middle", "fontSize": 14, "font": "Liberation Sans", "color": "#222"},
        "encoding": {
          "x": {"datum": 985.6, "type": "quantitative", "axis": null},
          "y": {"datum": -1, "type": "quantitative", "axis": null},
          "text": {"value": "Pos."}
        }
      },
      {
        "data": {"values": [{}]},
        "mark": {"type": "text", "align": "left", "baseline": "middle", "fontSize": 14, "font": "Liberation Sans", "color": "#222"},
        "encoding": {
          "x": {"datum": 870.8, "type": "quantitative", "axis": null},
          "y": {"datum": -1, "type": "quantitative", "axis": null},
          "text": {"value": "Area"}
        }
      },
      {
        "data": {"values": [{}]},
        "mark": {"type": "text", "align": "left", "baseline": "middle", "fontSize": 14, "font": "Liberation Sans", "color": "#222"},
        "encoding": {
          "x": {"datum": 754.4, "type": "quantitative", "axis": null},
          "y": {"datum": -1, "type": "quantitative", "axis": null},
          "text": {"value": "At%"}
        }
      }
    ],
    "resolve": {"axis": {"x": "independent"}}
  }
],
"resolve": {"scale": {"y": "independent"}, "axis": {"x": "independent"}}
}
